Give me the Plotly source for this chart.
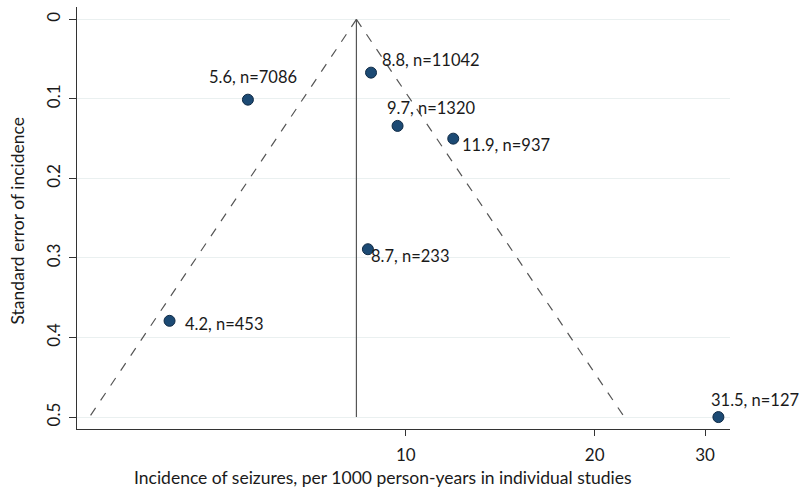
import plotly.graph_objects as go
import math

# ---- data ----
incidence = [5.6, 8.8, 9.7, 11.9, 8.7, 4.2, 31.5]
std_error = [0.101, 0.067, 0.134, 0.150, 0.289, 0.379, 0.500]
n_subjects = [7086, 11042, 1320, 937, 233, 453, 127]

pooled_estimate = 8.34
funnel_se = [0.0, 0.5]
funnel_left_x = [8.34, 3.13]
funnel_right_x = [8.34, 22.3]

x_tick_vals = [10, 20, 30]
y_tick_vals = [0, 0.1, 0.2, 0.3, 0.4, 0.5]
y_tick_text = ["0", "0.1", "0.2", "0.3", "0.4", "0.5"]

x_title = "Incidence of seizures, per 1000 person-years in individual studies"
y_title = "Standard error of incidence"

# label offsets (pixels): style only
label_shift = [(-41, 23), (9, 13), (-13, 18), (7, -6), (1, -7), (13, -3), (-9, 17)]

FONT = "Lato"
LINE_GRAY = "#555555"
TXT = "#1a1a1a"

fig = go.Figure()

fig.add_trace(go.Scatter(x=funnel_left_x, y=funnel_se, mode="lines",
                         line=dict(color=LINE_GRAY, width=1.2, dash="dash"),
                         hoverinfo="skip", showlegend=False))
fig.add_trace(go.Scatter(x=funnel_right_x, y=funnel_se, mode="lines",
                         line=dict(color=LINE_GRAY, width=1.2, dash="dash"),
                         hoverinfo="skip", showlegend=False))
fig.add_trace(go.Scatter(x=[pooled_estimate, pooled_estimate], y=funnel_se, mode="lines",
                         line=dict(color=LINE_GRAY, width=1.2),
                         hoverinfo="skip", showlegend=False))

fig.add_trace(go.Scatter(x=incidence, y=std_error, mode="markers",
                         marker=dict(size=11, color="#1c4a74",
                                     line=dict(color="#0f2a45", width=1)),
                         cliponaxis=False, showlegend=False))

for xi, yi, ni, (dx, dy) in zip(incidence, std_error, n_subjects, label_shift):
    fig.add_annotation(x=math.log10(xi), y=yi, text=f"{xi}, n={ni}",
                       showarrow=False, xanchor="left", yanchor="middle",
                       xshift=dx, yshift=dy,
                       font=dict(family=FONT, size=16.5, color=TXT))

# axis titles
fig.add_annotation(xref="paper", yref="paper", x=0.469, y=0, text=x_title,
                   showarrow=False, xanchor="center", yanchor="middle", yshift=-48,
                   font=dict(family=FONT, size=17.5, color=TXT))
fig.add_annotation(xref="paper", yref="paper", x=0, y=0.4917, text=y_title,
                   showarrow=False, xanchor="center", yanchor="middle", xshift=-59,
                   textangle=-90, font=dict(family=FONT, size=17.5, color=TXT))

fig.update_xaxes(type="log", range=[0.4757, 1.5168],
                 tickvals=x_tick_vals, ticktext=[str(v) for v in x_tick_vals],
                 ticks="outside", ticklen=6, tickcolor="#333333",
                 ticklabelstandoff=4,
                 showline=True, linecolor="#333333", linewidth=1.3,
                 showgrid=False, zeroline=False, automargin=False,
                 tickfont=dict(family=FONT, size=17, color=TXT))
fig.update_yaxes(range=[0.515, -0.0155],
                 tickvals=y_tick_vals, ticktext=y_tick_text, tickangle=-90,
                 ticks="outside", ticklen=7, tickcolor="#333333",
                 ticklabelstandoff=2,
                 showline=True, linecolor="#333333", linewidth=1.3,
                 showgrid=True, gridcolor="#eaf0f0", gridwidth=1, zeroline=False,
                 automargin=False,
                 tickfont=dict(family=FONT, size=17, color=TXT))

fig.update_layout(width=800, height=491,
                  margin=dict(l=77, r=70, t=7, b=62),
                  plot_bgcolor="white", paper_bgcolor="white")

fig.write_html("out.html", config={"displayModeBar": False},
               post_script="document.body.style.margin='0px';")
